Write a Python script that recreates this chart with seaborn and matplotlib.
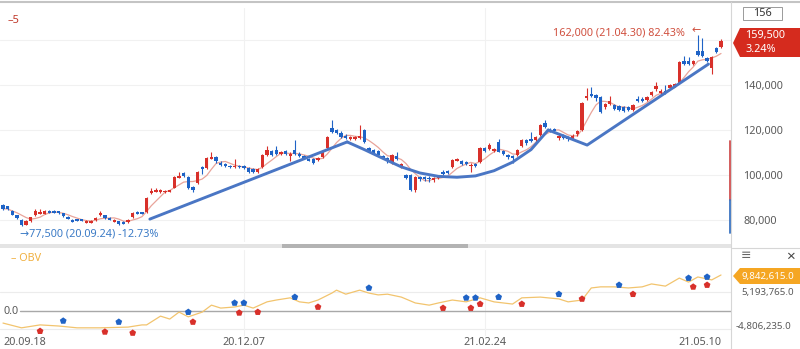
import numpy as np
import pandas as pd
import matplotlib
matplotlib.use("Agg")
import matplotlib.pyplot as plt
import seaborn as sns
from matplotlib.patches import Polygon, Rectangle
from matplotlib.lines import Line2D

# ---------------- data ----------------
opens = [86500, 86000, 84000, 82000, 80000, 78000, 79500, 82000, 82800, 82800,
         84200, 84000, 83800, 83000, 81500, 80200, 80400, 80300, 78700, 78800,
         79800, 82300, 82000, 81000, 79200, 79400, 79200, 79000, 81200, 83500,
         83500, 83600, 91800, 92500, 92500, 92400, 92600, 94200, 98800, 100800,
         99100, 94800, 96400, 103500, 103100, 107300, 108000, 105500, 105000, 104000,
         103500, 104000, 104000, 103000, 102500, 101500, 103600, 109000, 110500, 111000,
         109500, 110500, 108500, 111000, 109500, 108500, 107000, 107000, 106500, 108000,
         112000, 121000, 120000, 118500, 117500, 116000, 116000, 116500, 120000, 112000,
         111000, 110500, 108500, 107500, 105300, 108500, 103500, 100000, 100000, 93300,
         99000, 99200, 98800, 97800, 98500, 101500, 101800, 103600, 106500, 106000,
         105800, 104000, 105000, 105800, 112000, 111500, 110500, 114700, 110500, 109000,
         108500, 109000, 113000, 115500, 116000, 115500, 117800, 123000, 120500, 120500,
         116500, 117500, 117000, 116500, 118000, 120000, 134000, 136000, 135500, 134700,
         130000, 131500, 131000, 130500, 130000, 130000, 129000, 133500, 133500, 133500,
         135500, 138000, 136500, 137500, 138500, 139500, 141000, 150500, 150500, 149500,
         155000, 155000, 152000, 147500, 156500, 157000]
highs = [87000, 86300, 84500, 82300, 80500, 80000, 81500, 85000, 85000, 84300,
         84500, 84300, 84000, 83200, 81800, 80500, 80600, 80500, 79800, 79900,
         81200, 84000, 82200, 81200, 80300, 79600, 79400, 80400, 83500, 83800,
         83700, 90300, 94000, 94000, 93800, 93500, 93500, 99500, 101500, 101300,
         99500, 95000, 101800, 104000, 108000, 110000, 108500, 106000, 105500, 104500,
         107000, 104500, 104500, 103500, 103000, 103000, 109500, 113000, 111000, 113000,
         110500, 111000, 110000, 115500, 110000, 109000, 107500, 107500, 108000, 110500,
         117500, 124500, 120500, 119500, 118000, 117500, 117500, 122000, 120500, 112500,
         111500, 111000, 109000, 108000, 109500, 110000, 105500, 100500, 100500, 99500,
         99500, 99500, 99500, 99000, 100000, 102000, 102000, 107000, 107500, 106500,
         106000, 105500, 105500, 112500, 112500, 114000, 112000, 116000, 111000, 109500,
         109000, 111500, 116000, 116000, 119000, 117500, 122500, 124500, 121000, 121000,
         118000, 118000, 117500, 118000, 120000, 132500, 138500, 139000, 136000, 135000,
         132000, 135000, 131500, 131000, 130500, 130500, 131500, 135000, 134500, 135000,
         137500, 141500, 138000, 140000, 140500, 141000, 150500, 153000, 152500, 151000,
         162000, 161000, 152500, 153000, 157000, 160500]
lows = [84500, 84500, 82000, 80500, 77500, 77800, 79300, 81800, 82500, 82500,
        83000, 83000, 82800, 81500, 80300, 79000, 79500, 79400, 78500, 78600,
        79600, 81800, 80600, 79800, 79000, 78000, 78100, 78800, 81000, 82500,
        82600, 83300, 91500, 92300, 92200, 92000, 92300, 94000, 98500, 99200,
        93800, 92500, 96000, 100500, 102700, 107000, 105500, 104000, 103500, 103000,
        103000, 103000, 102500, 101000, 101000, 101000, 103000, 108500, 108500, 109000,
        109000, 109000, 106000, 109000, 108000, 107000, 106000, 105000, 106000, 107500,
        111500, 118500, 118000, 116500, 116000, 115500, 115500, 116000, 114000, 110000,
        109500, 108500, 107000, 105500, 105000, 106500, 103000, 98000, 93000, 92500,
        97500, 97500, 97000, 97000, 98000, 100000, 100500, 103000, 106000, 104500,
        104500, 101500, 103500, 105500, 110000, 111000, 110000, 110000, 109000, 107000,
        105500, 108500, 112500, 113500, 114500, 115000, 117500, 121000, 119000, 118500,
        115500, 116000, 115000, 116000, 117500, 119500, 133500, 134500, 133000, 127500,
        129500, 131000, 129000, 128500, 128000, 128500, 128500, 132500, 132500, 133000,
        135000, 137500, 136000, 136000, 138000, 139000, 140500, 149000, 149000, 149000,
        153000, 152500, 150000, 145000, 154000, 156500]
closes = [85000, 84800, 82300, 80800, 78000, 79500, 81200, 84000, 83600, 83800,
          83200, 83200, 83000, 81800, 80500, 79200, 79700, 79600, 79600, 79600,
          81000, 82900, 80800, 80000, 80000, 78300, 78400, 80200, 83200, 82800,
          82800, 89800, 93000, 93300, 93200, 93000, 93200, 99100, 99400, 99500,
          94200, 93300, 101300, 102700, 107600, 108000, 106000, 104500, 104000, 103500,
          104000, 103500, 103000, 101500, 101500, 102500, 108900, 111000, 109000, 109500,
          110000, 109500, 109500, 109500, 108500, 107500, 106500, 105500, 107500, 110000,
          117000, 119000, 118500, 117000, 116500, 117000, 117000, 117500, 114500, 110500,
          109800, 109000, 107500, 106000, 108900, 107000, 105000, 98500, 93300, 99100,
          98500, 98200, 98000, 98500, 99300, 100500, 101000, 106700, 107000, 104800,
          105000, 104500, 104000, 112000, 110500, 113500, 111500, 110200, 109500, 108000,
          107500, 111000, 115500, 114000, 115000, 117000, 122200, 121500, 119500, 119500,
          117500, 116500, 116000, 117500, 119500, 132000, 135000, 135000, 134000, 128000,
          131500, 133000, 129500, 129000, 128500, 129000, 131000, 133000, 133000, 134500,
          137000, 139500, 137500, 136500, 140000, 140500, 150000, 149500, 149500, 150500,
          153500, 153000, 150500, 152500, 154500, 159500]

tick_idx = [0, 52, 104, 155]
tick_labels = ["20.09.18", "20.12.07", "21.02.24", "21.05.10"]
vgrid_idx = [52, 104]
price_ticks = [80000, 100000, 120000, 140000, 160000]
price_labels = ["80,000", "100,000", "120,000", "140,000", ""]

# hand-drawn trend lines (candle index, price)
trend1_x = [31.7, 74.3]
trend1_y = [80400, 114700]
curve_x = [74.3, 78.0, 82.0, 86.0, 90.0, 94.0, 98.0, 102.0, 106.0, 110.0, 114.0, 117.7]
curve_y = [114700, 111300, 107400, 103600, 100900, 99400, 99000, 99600, 101900, 105700, 111300, 120000]
trend2_x = [117.7, 126.1, 152.3]
trend2_y = [120000, 113300, 149300]

# OBV readings (candle index, value in millions)
obv_idx = [0, 4, 8, 12, 16, 21, 27, 30, 31, 34, 36, 38, 40, 43, 45, 47, 50, 52, 54, 57,
           59, 62, 64, 66, 68, 71, 72, 74, 77, 79, 81, 83, 86, 89, 92, 94, 97, 100, 103, 106,
           110, 112, 116, 120, 122, 125, 127, 129, 132, 135, 138, 140, 143, 146, 148, 150, 153, 155]
obv_val = [-3.3, -4.6, -3.8, -4.1, -4.6, -4.6, -4.4, -3.8, -3.8, -1.4, -2.2, -0.3, -1.6, -0.3, 1.6, 0.8,
           1.1, 1.6, 0.8, 2.5, 3.0, 3.6, 2.5, 2.2, 3.0, 4.9, 5.7, 4.6, 5.7, 4.9, 4.4, 4.6, 3.8, 2.2,
           1.6, 2.2, 3.0, 2.5, 3.6, 2.5, 1.9, 3.6, 3.8, 3.3, 2.5, 3.0, 6.3, 6.6, 6.6, 6.3, 6.6, 7.4,
           6.8, 9.0, 7.9, 9.3, 8.5, 9.84]
buy_idx = [13, 25, 40, 50, 52, 63, 79, 100, 102, 107, 120, 133, 148, 152]
buy_val = [-2.7, -3.0, -0.3, 2.2, 2.2, 3.8, 6.3, 3.6, 3.6, 3.8, 4.6, 7.1, 9.0, 9.3]
sell_idx = [8, 22, 28, 41, 51, 55, 68, 95, 101, 103, 112, 125, 136, 149, 152]
sell_val = [-5.5, -5.7, -6.0, -3.0, -0.5, -0.3, 1.1, 0.8, 0.8, 1.9, 1.9, 3.3, 4.6, 6.6, 7.1]
obv_grid = [5193765, -4806235]

# ---------------- style ----------------
sns.set_theme(style="white")
plt.rcParams['font.family'] = ['Noto Sans', 'DejaVu Sans']

RED = "#d8302a"
BLUE = "#1f63c6"
MA_C = "#e9a49a"
TL_C = "#4a76c4"
OBV_C = "#f2c46e"
GRAY_T = "#5a5a5a"

W, H = 800, 349
def fx(x): return x / W
def fy(y): return 1 - y / H

fig = plt.figure(figsize=(8, 3.49), dpi=100)
fig.patch.set_facecolor("white")

ax = fig.add_axes([0, fy(242), fx(731), (242 - 8) / H])
ax2 = fig.add_axes([0, fy(336), fx(731), (336 - 250) / H])

o = np.array(opens, float); h = np.array(highs, float)
l = np.array(lows, float); c = np.array(closes, float)
idx = np.arange(len(c))
up = c >= o
cols = np.where(up, RED, BLUE)

# candles
ax.vlines(idx, l, h, colors=cols, lw=0.8, zorder=3)
body = np.maximum(np.abs(c - o), 800)
mid = (o + c) / 2
ax.bar(idx, body, bottom=mid - body / 2, width=0.72, color=cols, linewidth=0, zorder=4)

# MA5
ma5 = pd.Series(c).rolling(5, min_periods=1).mean()
sns.lineplot(x=idx, y=ma5.values, ax=ax, color=MA_C, lw=0.9, zorder=2)

# trend lines
for tx, ty in [(trend1_x, trend1_y), (curve_x, curve_y), (trend2_x, trend2_y)]:
    ax.plot(tx, ty, color=TL_C, lw=2.1, solid_joinstyle="round", solid_capstyle="round", zorder=6)

x0 = -3 / 4.63
x1 = 155 + (731 - 721) / 4.63
ax.set_xlim(x0, x1)
ax.set_ylim(80000 - 22 * 444.44, 80000 + 212 * 444.44)
ax.set_yticks(price_ticks)
ax.set_yticklabels(price_labels)
ax.yaxis.tick_right()
ax.tick_params(axis="y", length=0, pad=9, labelsize=7.8, labelcolor=GRAY_T)
ax.set_xticks([])
ax.grid(axis="y", color="#f1f1f1", lw=0.8, zorder=0)
for v in vgrid_idx:
    ax.axvline(v, color="#f1f1f1", lw=0.8, zorder=0)
for s in ax.spines.values():
    s.set_visible(False)
ax.set_ylabel("")

# annotations main
ax.text(0.01, 0.97, "–5", transform=ax.transAxes, color="#c0392b", fontsize=8, va="top")
fig.text(fx(685), fy(33), "162,000 (21.04.30) 82.43%", color="#d0503f", fontsize=7.8,
         ha="right", va="center")
fig.text(fx(692), fy(31), "←", color="#d0503f", fontsize=8, ha="left", va="center")
fig.text(fx(20), fy(234), "→77,500 (20.09.24) -12.73%", color="#3b7bc6", fontsize=7.8,
         ha="left", va="center")

# OBV panel
sns.lineplot(x=obv_idx, y=np.array(obv_val) * 1e6, ax=ax2, color=OBV_C, lw=0.9, zorder=3)
sns.scatterplot(x=buy_idx, y=np.array(buy_val) * 1e6, ax=ax2, marker="p", s=26,
                color=BLUE, edgecolor="none", zorder=5)
sns.scatterplot(x=sell_idx, y=np.array(sell_val) * 1e6, ax=ax2, marker="p", s=26,
                color=RED, edgecolor="none", zorder=5)
ax2.set_xlim(x0, x1)
ax2.set_ylim(-25 * 0.27336e6, 61 * 0.27336e6)
ax2.set_yticks([])
for v in obv_grid:
    ax2.axhline(v, color="#ececec", lw=0.8, zorder=0)
ax2.plot([20 / 4.63 + x0, x1], [0, 0], color="#a8a8a8", lw=1.0, zorder=1)
for v in vgrid_idx:
    ax2.axvline(v, color="#f1f1f1", lw=0.8, zorder=0)
for s in ax2.spines.values():
    s.set_visible(False)
ax2.set_xticks(tick_idx)
ax2.set_xticklabels(tick_labels)
ax2.tick_params(axis="x", length=0, pad=1, labelsize=7.8, labelcolor=GRAY_T)
labs = ax2.get_xticklabels()
labs[0].set_ha("left")
labs[-1].set_ha("right")
ax2.set_xlabel(""); ax2.set_ylabel("")
ax2.text(0.015, 0.96, "– OBV", transform=ax2.transAxes, color="#f0b040", fontsize=7.8, va="top")
fig.text(fx(3), fy(311), "0.0", color=GRAY_T, fontsize=7.8, va="center", ha="left")

# frame lines / scrollbar
fig.add_artist(Line2D([0, 1], [fy(2), fy(2)], transform=fig.transFigure, color="#c4c4c4", lw=1.5))
fig.add_artist(Line2D([fx(731), fx(731)], [fy(2), 0], transform=fig.transFigure, color="#d6d6d6", lw=0.8))
fig.add_artist(Rectangle((0, fy(248)), fx(731), 4 / H, transform=fig.transFigure,
                         color="#e4e4e4", lw=0))
fig.add_artist(Rectangle((fx(282), fy(248)), fx(468) - fx(282), 4 / H, transform=fig.transFigure,
                         color="#b3b3b3", lw=0))
fig.add_artist(Line2D([fx(732), fx(800)], [fy(248), fy(248)], transform=fig.transFigure, color="#d6d6d6", lw=0.8))

# right-side widgets
fig.add_artist(Rectangle((fx(743), fy(20)), fx(39), 13 / H, transform=fig.transFigure,
                         facecolor="white", edgecolor="#9a9a9a", lw=0.7))
fig.text(fx(762.5), fy(13.5), "156", fontsize=7.8, color="#333", ha="center", va="center")
fig.add_artist(Polygon([(fx(733), fy(43)), (fx(740), fy(28)), (fx(800), fy(28)),
                        (fx(800), fy(57)), (fx(740), fy(57))], closed=True,
                       transform=fig.transFigure, color="#d52b1e", lw=0))
fig.text(fx(745), fy(35.5), "159,500", fontsize=7.8, color="white", va="center")
fig.text(fx(745), fy(49), "3.24%", fontsize=7.8, color="white", va="center")
fig.add_artist(Line2D([fx(730), fx(730)], [fy(141), fy(200)], transform=fig.transFigure,
                      color="#d05050", lw=1.3))
fig.add_artist(Line2D([fx(730), fx(730)], [fy(200), fy(233)], transform=fig.transFigure,
                      color="#3b74c2", lw=1.3))

fig.text(fx(741), fy(256), "≡", fontsize=9, color="#666", va="center")
fig.text(fx(786), fy(257), "×", fontsize=11, color="#444", va="center")
fig.add_artist(Polygon([(fx(733), fy(276)), (fx(740), fy(268)), (fx(800), fy(268)),
                        (fx(800), fy(284)), (fx(740), fy(284))], closed=True,
                       transform=fig.transFigure, color="#f5a623", lw=0))
fig.text(fx(741), fy(276), "9,842,615.0", fontsize=7.0, color="white", va="center")
fig.text(fx(741), fy(292), "5,193,765.0", fontsize=7.0, color=GRAY_T, va="center")
fig.text(fx(736), fy(327), "-4,806,235.0", fontsize=7.0, color=GRAY_T, va="center")

fig.savefig("out.png", dpi=100, facecolor="white")
